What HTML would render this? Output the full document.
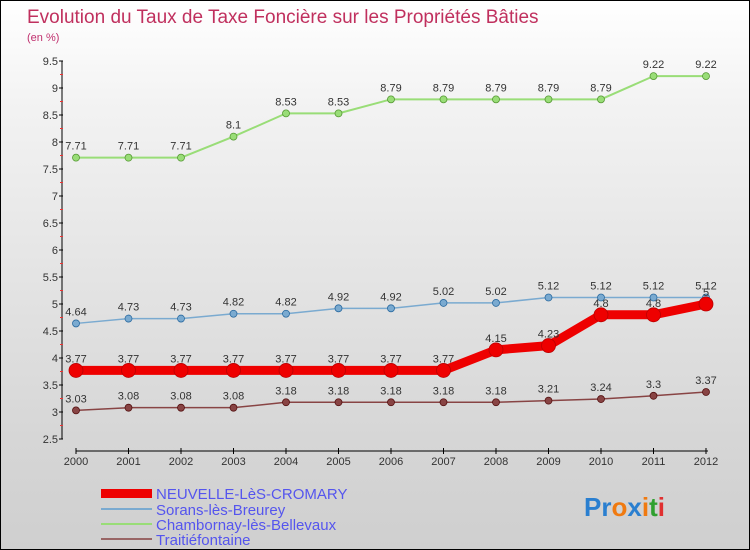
<!DOCTYPE html>
<html><head><meta charset="utf-8"><style>
body{margin:0}
#c{width:748px;height:548px;border:1px solid #000;background:linear-gradient(#ffffff,#f2f2f2 20%,#d6d6d6 80%,#cfcfcf);position:relative;font-family:"Liberation Sans",sans-serif;overflow:hidden}
svg text{font-family:"Liberation Sans",sans-serif}
</style></head><body>
<div id="c">
<svg id="s" width="748" height="548">
<text x="26" y="22" font-size="19" fill="#c0305e">Evolution du Taux de Taxe Foncière sur les Propriétés Bâties</text>
<text x="26" y="40" font-size="11" fill="#c0306e">(en %)</text>
<g id="axes"></g><g id="series"></g>
<g>
<rect x="100" y="488" width="51" height="9" fill="#e00"/>
<text x="155" y="498" font-size="15" fill="#5555ee">NEUVELLE-LèS-CROMARY</text>
<rect x="100" y="507" width="51" height="2" fill="#7aaad0"/>
<text x="155" y="514" font-size="15" fill="#5555ee">Sorans-lès-Breurey</text>
<rect x="100" y="522" width="51" height="2" fill="#99dd77"/>
<text x="155" y="529" font-size="15" fill="#5555ee">Chambornay-lès-Bellevaux</text>
<rect x="100" y="537" width="51" height="2" fill="#996666"/>
<text x="155" y="544" font-size="15" fill="#5555ee">Traitiéfontaine</text>
</g>
<text x="583" y="515" font-size="26" font-weight="bold"><tspan fill="#2a7fd0">Pr</tspan><tspan fill="#f07a10">o</tspan><tspan fill="#2a7fd0">x</tspan><tspan fill="#f07a10">i</tspan><tspan fill="#30a030">t</tspan><tspan fill="#e03030">i</tspan></text>
</svg></div>
<script>
const years=[2000,2001,2002,2003,2004,2005,2006,2007,2008,2009,2010,2011,2012];
const yTicks=[2.5,3,3.5,4,4.5,5,5.5,6,6.5,7,7.5,8,8.5,9,9.5];
const neuvelle=[3.77,3.77,3.77,3.77,3.77,3.77,3.77,3.77,4.15,4.23,4.8,4.8,5];
const sorans=[4.64,4.73,4.73,4.82,4.82,4.92,4.92,5.02,5.02,5.12,5.12,5.12,5.12];
const chambornay=[7.71,7.71,7.71,8.1,8.53,8.53,8.79,8.79,8.79,8.79,8.79,9.22,9.22];
const traitie=[3.03,3.08,3.08,3.08,3.18,3.18,3.18,3.18,3.18,3.21,3.24,3.3,3.37];
const NS="http://www.w3.org/2000/svg";
const X=i=>75+i*52.5, Y=v=>438-(v-2.5)*54;
function mk(t,a,p){const e=document.createElementNS(NS,t);for(const k in a)e.setAttribute(k,a[k]);p.appendChild(e);return e;}
const ax=document.getElementById('axes'),sg=document.getElementById('series');
let e=mk('line',{x1:61,y1:Y(9.5),x2:61,y2:Y(2.5),stroke:'#000'},ax);

e=mk('line',{x1:75,y1:450,x2:707,y2:450,stroke:'#000'},ax);

yTicks.forEach(v=>{mk('line',{x1:58,x2:62,y1:Y(v),y2:Y(v),stroke:'#000'},ax);
 if(v<9.5)mk('line',{x1:59,x2:62,y1:Y(v+0.25),y2:Y(v+0.25),stroke:'#e33'},ax);
 const t=mk('text',{x:57,y:Y(v)+4,'font-size':11,fill:'#333','text-anchor':'end'},ax);t.textContent=v;
 });
years.forEach((y,i)=>{mk('line',{x1:X(i),x2:X(i),y1:447,y2:453,stroke:'#000'},ax);
 const t=mk('text',{x:X(i),y:464,'font-size':11,fill:'#333','text-anchor':'middle'},ax);t.textContent=y;
 });
function draw(d,name,color,w,r,stroke,lab){
 const p=mk('polyline',{points:d.map((v,i)=>X(i)+','+Y(v)).join(' '),fill:'none',stroke:color,'stroke-width':w,'stroke-linejoin':'round'},sg);
 
 d.forEach((v,i)=>{const c=mk('circle',{cx:X(i),cy:Y(v),r:r,fill:color,stroke:stroke,'stroke-width':0.8},sg);
  
  const t=mk('text',{x:X(i),y:Y(v)-8,'font-size':11,fill:'#333','text-anchor':'middle'},sg);t.textContent=v;
  });
}
draw(chambornay,'chambornay','#99dd77',2,3.5,'#559933');
draw(sorans,'sorans','#7aaad0',1.5,3.5,'#2a6aa0');
draw(traitie,'traitiefontaine','#884444',1.5,3.5,'#551111');
draw(neuvelle,'neuvelle','#ee0000',9,7,'#bb0000');
</script>
</body></html>
